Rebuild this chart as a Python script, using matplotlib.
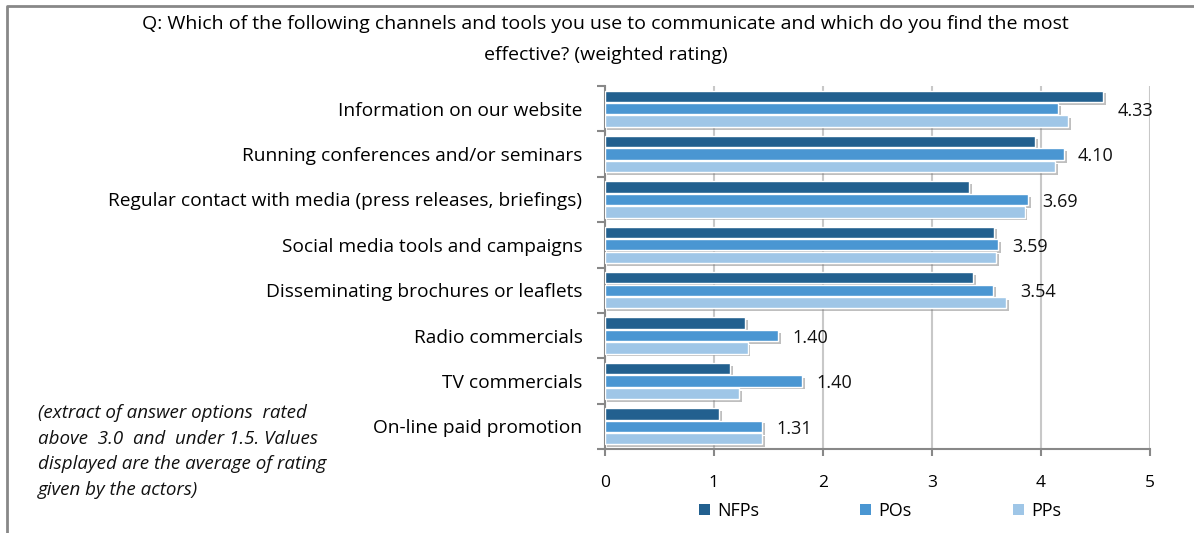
import matplotlib.pyplot as plt
import matplotlib.patheffects as pe
from matplotlib.lines import Line2D
from matplotlib.patches import Patch

# weighted ratings per channel, top row first
channels = [
    "Information on our website",
    "Running conferences and/or seminars",
    "Regular contact with media (press releases, briefings)",
    "Social media tools and campaigns",
    "Disseminating brochures or leaflets",
    "Radio commercials",
    "TV commercials",
    "On-line paid promotion",
]
nfps = [4.57, 3.95, 3.34, 3.57, 3.38, 1.29, 1.15, 1.05]
pos = [4.16, 4.21, 3.88, 3.61, 3.56, 1.59, 1.81, 1.44]
pps = [4.25, 4.13, 3.85, 3.59, 3.68, 1.31, 1.23, 1.44]

series = ["NFPs", "POs", "PPs"]
colors = ["#22608f", "#4a96d2", "#9fc6e7"]

W, H = 1194, 533
fig = plt.figure(figsize=(W / 100, H / 100), dpi=100)
ax = fig.add_axes([604.7 / W, 1 - 449 / H, (1150 - 604.7) / W, (449 - 86) / H])

shadow = [pe.SimplePatchShadow(offset=(2, -2), shadow_rgbFace="0.45", alpha=0.45), pe.Normal()]

y = list(range(len(channels)))
offsets = [-0.275, 0.0, 0.275]
for vals, off, col, name in zip([nfps, pos, pps], offsets, colors, series):
    bars = ax.barh([i + off for i in y], vals, height=0.25, color=col,
                   edgecolor="white", linewidth=1.0, label=name, zorder=3)
    for b in bars:
        b.set_path_effects(shadow)

# average of the three groups written beside each row
for i in y:
    avg = (nfps[i] + pos[i] + pps[i]) / 3
    top = max(nfps[i], pos[i], pps[i])
    ax.text(top + 0.13, i + 0.05, f"{avg:.2f}", va="center", ha="left",
            fontsize=13, family="Open Sans", color="#111111", zorder=4)

ax.set_xlim(0, 5)
ax.set_ylim(len(channels) - 0.5, -0.5)
ax.set_xticks(range(6))
ax.set_xticklabels([str(v) for v in range(6)], family="Open Sans", fontsize=12.5)
ax.tick_params(axis="x", length=5, width=1.5, color="#888888", pad=14)
ax.set_yticks(y)
ax.set_yticklabels(channels, family="Open Sans", fontsize=13.8)
ax.tick_params(axis="y", which="major", length=0, pad=16)
ax.set_yticks([i - 0.5 for i in range(len(channels) + 1)], minor=True)
ax.tick_params(axis="y", which="minor", length=6, width=1.5, color="#888888")

ax.grid(axis="x", color="#c8c8c8", linewidth=1.5, zorder=0)
for s in ["top", "right"]:
    ax.spines[s].set_visible(False)
for s in ["left", "bottom"]:
    ax.spines[s].set_color("#888888")
    ax.spines[s].set_linewidth(1.5)

fig.text(0.507, 1 - 24 / H,
         "Q: Which of the following channels and tools you use to communicate and which do you find the most",
         ha="center", va="center", fontsize=14, family="Open Sans", stretch="semi-condensed")
fig.text(0.507, 1 - 55 / H, "effective? (weighted rating)",
         ha="center", va="center", fontsize=14, family="Open Sans", stretch="semi-condensed")

note = ("(extract of answer options  rated\n"
        "above  3.0  and  under 1.5. Values\n"
        "displayed are the average of rating\n"
        "given by the actors)")
fig.text(38 / W, 1 - 404 / H, note, ha="left", va="top", fontsize=13.5,
         family="Open Sans", style="italic", linespacing=1.55, color="#111111")

handles = [Patch(facecolor=c) for c in colors]
fig.legend(handles, series, loc="center", bbox_to_anchor=(880 / W, 1 - 511 / H), ncol=3,
           frameon=False, handlelength=0.6, handleheight=0.6, handletextpad=0.4,
           columnspacing=5.6, prop={"family": "Open Sans", "size": 13})

# frame lines along the left and top edges
fig.add_artist(Line2D([7 / W, 7 / W, 1.0], [0.0, 1 - 6 / H, 1 - 6 / H],
                      transform=fig.transFigure, color="#888888", linewidth=2))

fig.savefig("out.png", dpi=100)
